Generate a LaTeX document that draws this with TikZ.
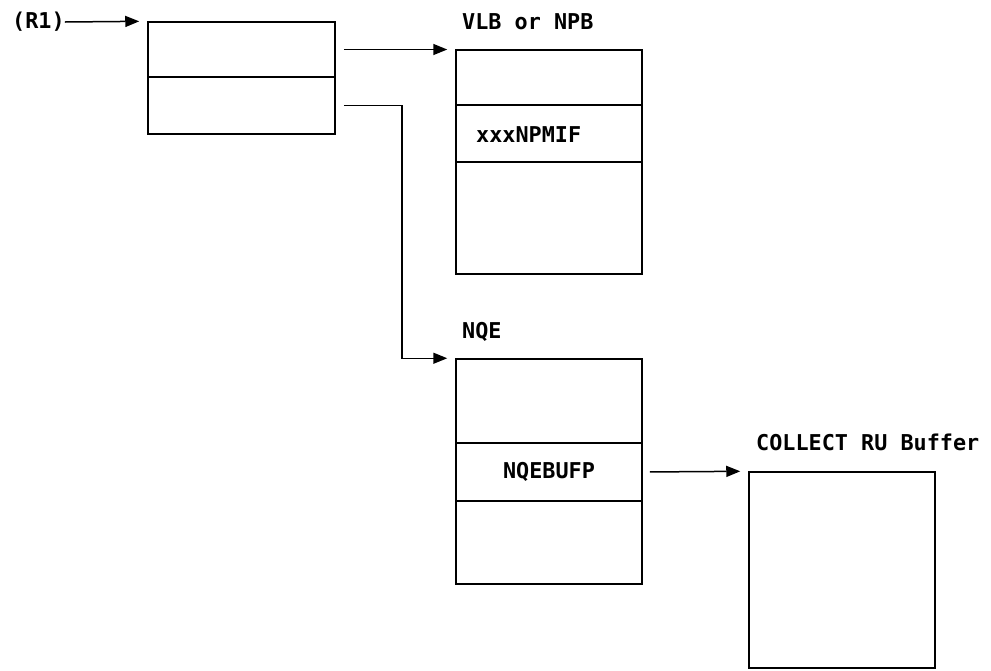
\documentclass[tikz,border=0pt]{standalone}
\usepackage{fontspec}
\newfontfamily\blockfont{DejaVu Sans Mono}
\usepackage{tikz}
\usetikzlibrary{arrows.meta, positioning}

\begin{document}
\begin{tikzpicture}[
  x=1pt, y=-1pt,
  % storage cells (stacked to make a control block)
  cell/.style={rectangle, draw=black, line width=1.5pt, fill=white,
               minimum width=186pt, minimum height=#1, inner sep=0pt,
               font=\blockfont\bfseries\fontsize{21.8}{24}\selectfont},
  wcell/.style={cell=#1, minimum width=187pt},
  % plain text labels
  lbl/.style={inner sep=0pt, anchor=west,
              font=\blockfont\bfseries\fontsize{21.8}{24}\selectfont},
  arrow/.style={-{Triangle[length=14pt, width=11pt]}, line width=1.5pt,
                shorten >=8pt}
]
\useasboundingbox (0,0) rectangle (991,670);

%% -- first block (pointed to by R1) --------------------------
\node[wcell=55pt] (top)  at (241.5, 49.5)  {};
\node[wcell=57pt] (bot)  at (241.5, 105.5) {};
\node[lbl] (r1) at (12, 22) {(R1)};
\draw[arrow] (r1.east) -- (top.north west);

%% -- VLB or NPB ----------------------------------------------
\node[cell=55pt]  (vlb1) at (549, 77.5)  {};
\node[cell=57pt]  (vlb2) at (549, 133.5) {};
\node[cell=112pt] (vlb3) at (549, 218)   {};
\node[lbl] (vlbname) at (462, 22)  {VLB or NPB};
\node[lbl] (npmif)   at (476, 135) {xxxNPMIF};
\draw[arrow, shorten <=8pt] (top.east) -- (top.east -| vlb1.west);

%% -- NQE -----------------------------------------------------
\node[cell=84pt] (nqe1) at (549, 401)   {};
\node[cell=58pt] (nqe2) at (549, 472)   {NQEBUFP};
\node[cell=83pt] (nqe3) at (549, 542.5) {};
\node[lbl] (nqename) at (462, 332) {NQE};
\coordinate (bend) at (402, 105.5);
\draw[arrow, shorten <=8pt] (bot.east) -- (bend) |- (nqe1.north west);

%% -- COLLECT RU buffer ---------------------------------------
\node[cell=196pt] (buf) at (842, 570) {};
\node[lbl] (bufname) at (756, 442) {COLLECT RU Buffer};
\draw[arrow, shorten <=7pt] (nqe2.east) -- (buf.north west);

\end{tikzpicture}
\end{document}
